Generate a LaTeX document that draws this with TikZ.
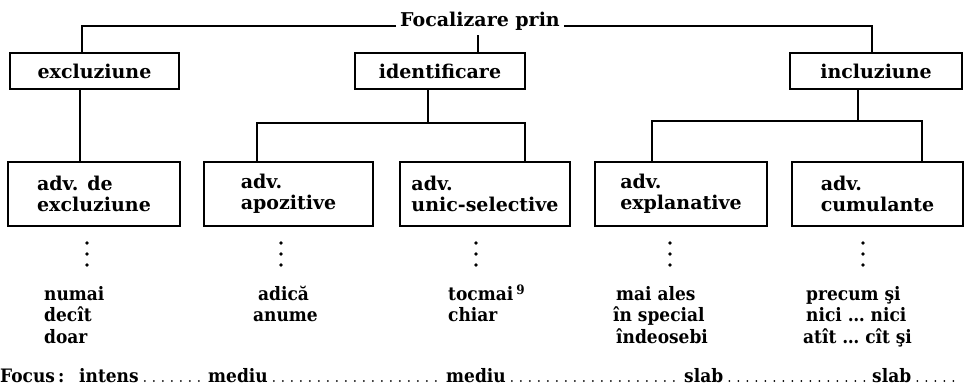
\documentclass[tikz,border=0pt]{standalone}
\usepackage{fontspec}
\setmainfont{DejaVu Serif}
\newfontfamily\lstfont[FakeStretch=0.92]{DejaVu Serif}
\begin{document}
\begin{tikzpicture}[x=1pt,y=-1pt,
  font=\fontsize{19}{21.5}\selectfont\bfseries,
  lbox/.style={draw,line width=1.4pt,minimum height=36pt,inner sep=0pt},
  abox/.style={draw,line width=1.4pt,minimum height=64pt,align=left,inner sep=0pt},
  link/.style={line width=1.4pt},
  word/.style={anchor=base west,inner sep=0pt,font=\lstfont\fontsize{18.5}{21}\selectfont\bfseries},
  dotrow/.style={line width=2pt,line cap=round,dash pattern=on 0pt off 9pt}
]
\useasboundingbox (0,0) rectangle (970,390);

% title
\node[inner sep=0pt,anchor=base] (F) at (480,27) {Focalizare prin};

% first level
\node[lbox,minimum width=169pt] (exc) at (94.5,71) {excluziune};
\node[lbox,minimum width=170pt] (idf) at (440,71) {identificare};
\node[lbox,minimum width=172pt] (inc) at (876,71) {incluziune};

% second level
\node[abox,minimum width=172pt] (ade) at (94,194) {adv. de\\excluziune};
\node[abox,minimum width=169pt] (apo) at (288.5,194) {adv.\\apozitive};
\node[abox,minimum width=170pt] (uni) at (485,194) {adv.\\unic-selective};
\node[abox,minimum width=172pt] (exp) at (681,194) {adv.\\explanative};
\node[abox,minimum width=171pt] (cum) at (877.5,194) {adv.\\cumulante};

% connectors from the title
\coordinate (jl) at (82,26);
\coordinate (jr) at (872,26);
\coordinate (jm) at (478,0);
\draw[link] ([xshift=-4pt,yshift=1pt]F.base west) -- (jl) -- (jl |- exc.north);
\draw[link] ([xshift=4pt,yshift=1pt]F.base east) -- (jr) -- (jr |- inc.north);
\draw[link] ([yshift=-4pt]jm |- F.south) -- (jm |- idf.north);

% excluziune
\coordinate (e1) at (80,0);
\draw[link] (e1 |- exc.south) -- (e1 |- ade.north);

% identificare bracket
\coordinate (ib) at (428,123);
\coordinate (ibl) at (257,123);
\coordinate (ibr) at (525,123);
\draw[link] (ib |- idf.south) -- (ib);
\draw[link] (ibl |- apo.north) -- (ibl) -- (ibr) -- (ibr |- uni.north);

% incluziune bracket
\coordinate (nb) at (858,121);
\coordinate (nbl) at (652,121);
\coordinate (nbr) at (922,121);
\draw[link] (nb |- inc.south) -- (nb);
\draw[link] (nbl |- exp.north) -- (nbl) -- (nbr) -- (nbr |- cum.north);

% vertical dots
\foreach \x in {87,281,476,670,863}
  \foreach \y in {243,254,265}
    \fill (\x,\y) circle (1.9pt);

% word lists
\node[word] (a1) at (44,301) {numai};
\node[word] (a2) at (44,322) {decît};
\node[word] (a3) at (44,343) {doar};
\node[word] (b1) at (258,301) {adică};
\node[word] (b2) at (253,322) {anume};
\node[word] (c1) at (448,301) {tocmai\,\textsuperscript{9}};
\node[word] (c2) at (448,322) {chiar};
\node[word] (d1) at (616,301) {mai ales};
\node[word] (d2) at (613,322) {în special};
\node[word] (d3) at (616,343) {îndeosebi};
\node[word] (e1w) at (806,301) {precum şi};
\node[word] (e2w) at (806,322) {nici \dots\ nici};
\node[word] (e3w) at (803,343) {atît \dots\ cît şi};

% focus line
\node[word] (fo) at (0,382) {Focus\,:};
\node[word] (f1) at (79,382) {intens};
\node[word] (f2) at (208,382) {mediu};
\node[word] (f3) at (446,382) {mediu};
\node[word] (f4) at (684,382) {slab};
\node[word] (f5) at (872,382) {slab};
\coordinate (fend) at (962,382);
\draw[dotrow] ([xshift=6pt,yshift=1pt]f1.base east) -- ([xshift=-4pt,yshift=1pt]f2.base west);
\draw[dotrow] ([xshift=6pt,yshift=1pt]f2.base east) -- ([xshift=-4pt,yshift=1pt]f3.base west);
\draw[dotrow] ([xshift=6pt,yshift=1pt]f3.base east) -- ([xshift=-4pt,yshift=1pt]f4.base west);
\draw[dotrow] ([xshift=6pt,yshift=1pt]f4.base east) -- ([xshift=-4pt,yshift=1pt]f5.base west);
\draw[dotrow] ([xshift=6pt,yshift=1pt]f5.base east) -- ([yshift=1pt]fend);
\end{tikzpicture}
\end{document}
